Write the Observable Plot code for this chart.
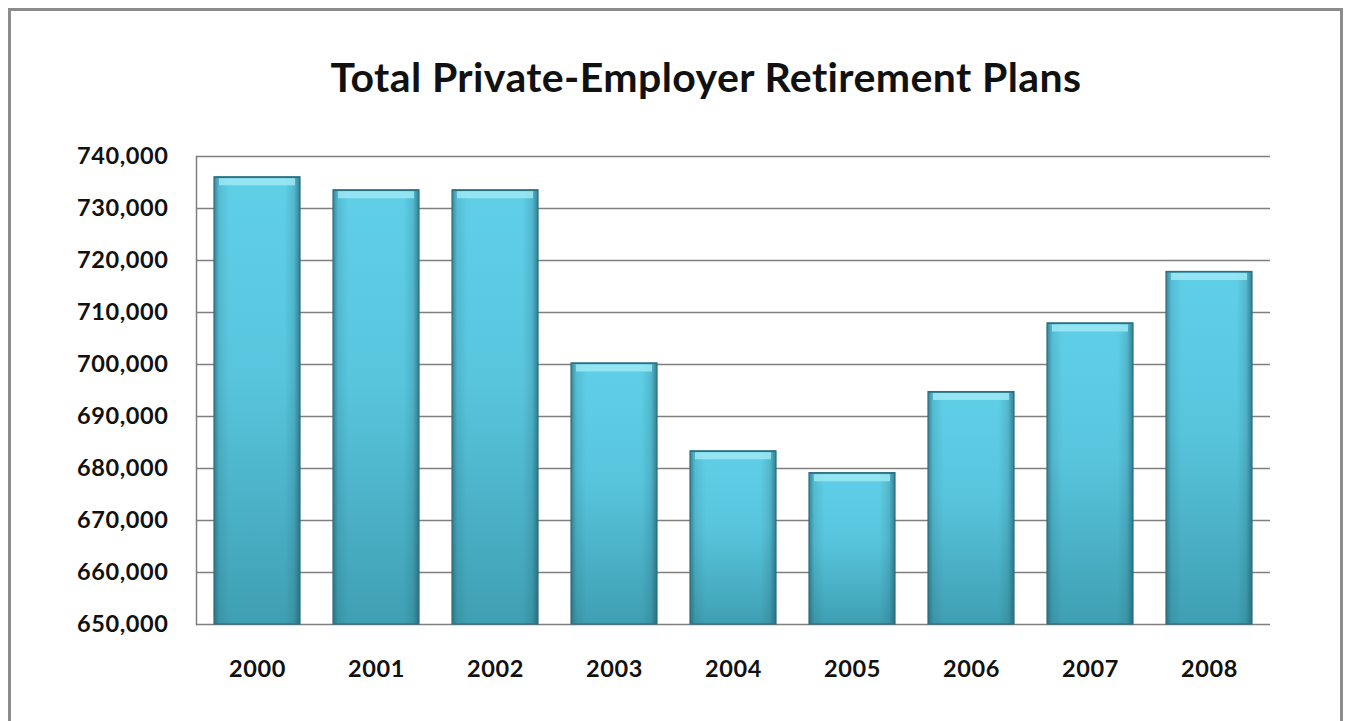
<!DOCTYPE html>
<html>
<head>
<meta charset="utf-8">
<script src="https://cdn.jsdelivr.net/npm/d3@7"></script>
<script src="https://cdn.jsdelivr.net/npm/@observablehq/plot@0.6"></script>
<style>
  body { margin: 0; overflow: hidden; background: #fff; }
  #frame { position: absolute; left: 8px; top: 8px; width: 1329px; height: 800px; border: 3px solid #8c8c8c; }
  #chart { position: absolute; left: 0; top: 0; width: 1348px; }
  #title { box-sizing: border-box; height: 120px; padding-top: 56px; padding-left: 64px; text-align: center;
           font-family: Lato, sans-serif; font-weight: bold; font-size: 41px; line-height: 41px; letter-spacing: 0.4px; color: #111; }
</style>
</head>
<body>
<div id="frame"></div>
<div id="chart">
  <div id="title">Total Private-Employer Retirement Plans</div>
</div>
<script>
const years = ["2000","2001","2002","2003","2004","2005","2006","2007","2008"];
const plans = [736000, 733500, 733500, 700200, 683300, 679100, 694700, 707900, 717800];
const yTicks = [650000, 660000, 670000, 680000, 690000, 700000, 710000, 720000, 730000, 740000];
const yMin = 650000, yMax = 740000;

const data = years.map((year, i) => ({year, value: plans[i]}));

const chart = Plot.plot({
  width: 1348,
  height: 601,
  marginLeft: 196,
  marginRight: 78,
  marginTop: 36,
  marginBottom: 97,
  style: {fontFamily: "Lato, sans-serif", fontSize: "23.5px", fontWeight: "bold", color: "#111", background: "transparent", letterSpacing: "0.6px"},
  x: {domain: years, paddingInner: 0.28, paddingOuter: 0.13, label: null, tickSize: 0, tickPadding: 36},
  y: {domain: [yMin, yMax], ticks: yTicks, tickFormat: d3.format(","), label: null, tickSize: 0, tickPadding: 28},
  marks: [
    Plot.ruleY(yTicks, {stroke: "#7f7f7f", strokeWidth: 1.5}),
    Plot.frame({anchor: "left", stroke: "#7f7f7f", strokeWidth: 1.5}),
    Plot.barY(data, {x: "year", y1: yMin, y2: "value", fill: "url(#barV)"}),
    Plot.barY(data, {x: "year", y1: yMin, y2: "value", fill: "url(#barH)", stroke: "#2e6f7e", strokeWidth: 1.2}),
    Plot.tickY(data, {x: "year", y: "value", stroke: "#9ee7f3", strokeOpacity: 0.85, strokeWidth: 7, dy: 4.5, insetLeft: 5, insetRight: 5}),
    Plot.tickY(data, {x: "year", y: "value", stroke: "#2e6f7e", strokeWidth: 1.2})
  ]
});

const defs = d3.select(chart).insert("defs", ":first-child");
const gv = defs.append("linearGradient").attr("id", "barV").attr("x1", 0).attr("y1", 0).attr("x2", 0).attr("y2", 1);
[["0%", "#5fcfe7"], ["45%", "#58c5dd"], ["100%", "#3f9fb2"]].forEach(([o, c]) => gv.append("stop").attr("offset", o).attr("stop-color", c));
const gh = defs.append("linearGradient").attr("id", "barH").attr("x1", 0).attr("y1", 0).attr("x2", 1).attr("y2", 0);
[["0%", "#1d5664", 0.6], ["6%", "#1d5664", 0.15], ["18%", "#1d5664", 0], ["82%", "#1d5664", 0], ["93%", "#1d5664", 0.18], ["100%", "#1d5664", 0.65]]
  .forEach(([o, c, a]) => gh.append("stop").attr("offset", o).attr("stop-color", c).attr("stop-opacity", a));

document.getElementById("chart").appendChild(chart);
</script>
</body>
</html>
